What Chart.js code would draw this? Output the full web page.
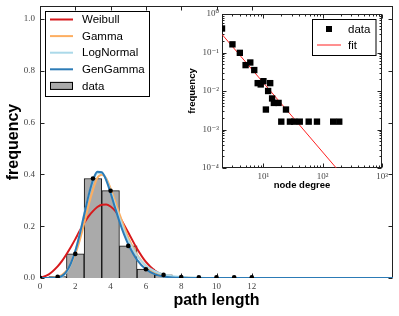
<!DOCTYPE html>
<html>
<head>
<meta charset="utf-8">
<script src="https://cdn.jsdelivr.net/npm/chart.js@4.4.1/dist/chart.umd.min.js"></script>
<style>
  html, body { margin: 0; padding: 0; background: #fff; overflow: hidden; }
  #wrap { position: relative; width: 399px; height: 316px; }
  #mainChart { position: absolute; left: 0; top: 0; }
  #insetChart { position: absolute; left: 180px; top: 0; }
</style>
</head>
<body>
<div id="wrap">
  <canvas id="mainChart" width="399" height="316"></canvas>
  <canvas id="insetChart" width="219" height="200"></canvas>
</div>
<script>
// Datos del histograma (longitud de camino)
const binX = [1, 2, 3, 4, 5, 6, 7, 8, 9, 10, 11, 12];
const binFreq = [0.005, 0.093, 0.384, 0.337, 0.124, 0.034, 0.012, 0.004, 0.002, 0.002, 0.002, 0.002];
const dotX = [0, 1, 2, 3, 4, 5, 6, 7, 8, 9, 10, 11, 12];
const dotFreq = [0.001, 0.005, 0.093, 0.384, 0.337, 0.124, 0.034, 0.012, 0.004, 0.003, 0.003, 0.003, 0.003];

// Curvas ajustadas
const curveX = [0, 0.5, 1, 1.25, 1.5, 1.75, 2, 2.25, 2.5, 2.75, 3, 3.25, 3.5, 3.75, 4, 4.25, 4.5, 4.75, 5, 5.5, 6, 6.5, 7, 7.5, 8, 9, 10, 20];
const weibullY = [0, 0.014, 0.045, 0.066, 0.092, 0.12, 0.15, 0.182, 0.212, 0.238, 0.258, 0.274, 0.283, 0.284, 0.276, 0.26, 0.236, 0.207, 0.176, 0.113, 0.062, 0.029, 0.011, 0.004, 0.001, 0, 0, 0];
const gammaY = [0, 0, 0.004, 0.012, 0.028, 0.054, 0.092, 0.145, 0.21, 0.28, 0.34, 0.387, 0.399, 0.385, 0.345, 0.298, 0.248, 0.2, 0.157, 0.09, 0.047, 0.022, 0.01, 0.004, 0.0015, 0.0002, 0, 0];
const logNormalY = [0, 0, 0.001, 0.006, 0.022, 0.055, 0.104, 0.17, 0.245, 0.315, 0.372, 0.404, 0.405, 0.38, 0.335, 0.283, 0.232, 0.186, 0.146, 0.086, 0.048, 0.026, 0.014, 0.007, 0.004, 0.001, 0.0003, 0];
const genGammaY = [0, 0, 0.002, 0.008, 0.025, 0.057, 0.104, 0.168, 0.243, 0.318, 0.378, 0.41, 0.408, 0.378, 0.328, 0.272, 0.218, 0.17, 0.13, 0.07, 0.034, 0.015, 0.006, 0.002, 0.0007, 0, 0, 0];

const xTicks = [0, 2, 4, 6, 8, 10, 12];
const yTicks = [0, 0.2, 0.4, 0.6, 0.8, 1.0];

// Distribución de grado (inset)
const degX = [2, 3, 4, 5, 6, 7, 8, 9, 10, 11, 12, 13, 14, 15, 18, 20, 24, 28, 33, 41, 58, 80, 150, 190];
const degFreq = [0.42, 0.163, 0.098, 0.047, 0.055, 0.035, 0.016, 0.0148, 0.018, 0.0033, 0.01, 0.016, 0.0064, 0.0049, 0.0049, 0.0016, 0.0033, 0.0016, 0.0016, 0.0016, 0.0016, 0.0016, 0.0016, 0.0016];
const fitX = [2, 200];
const fitY = [0.296, 0.000074];
const degTicks = [10, 100, 1000];
const freqTicks = [0.0001, 0.001, 0.01, 0.1, 1];

const SANS = '"Liberation Sans", Arial, Helvetica, sans-serif';
const SERIF = '"Liberation Serif", "DejaVu Serif", serif';

const toXY = (xs, ys) => xs.map((x, i) => ({ x: x, y: ys[i] }));

// Superíndices para las etiquetas logarítmicas
const SUP = { '-': '\u207B', '0': '\u2070', '1': '\u00B9', '2': '\u00B2', '3': '\u00B3', '4': '\u2074' };
const powLabel = (v) => '10' + String(Math.round(Math.log10(v))).split('').map(c => SUP[c]).join('');

// Marco con marcas hacia dentro en los cuatro lados
const marcoPlugin = {
  id: 'marco',
  beforeDatasetsDraw(chart, args, opts) {
    const { ctx, chartArea: a, scales } = chart;
    const L = Math.round(a.left) + 0.5, R = Math.round(a.right) - 0.5;
    const T = Math.round(a.top) + 0.5, B = Math.round(a.bottom) - 0.5;
    ctx.save();
    ctx.strokeStyle = opts.color;
    ctx.lineWidth = 1;
    ctx.strokeRect(L, T, R - L, B - T);
    const tick = (scale, v, len) => {
      const p = Math.round(scale.getPixelForValue(v)) + 0.5;
      ctx.beginPath();
      if (scale.isHorizontal()) {
        ctx.moveTo(p, B); ctx.lineTo(p, B - len);
        ctx.moveTo(p, T); ctx.lineTo(p, T + len);
      } else {
        ctx.moveTo(L, p); ctx.lineTo(L + len, p);
        ctx.moveTo(R, p); ctx.lineTo(R - len, p);
      }
      ctx.stroke();
    };
    [scales.x, scales.y].forEach(scale => {
      scale.ticks.forEach(t => tick(scale, t.value, opts.major));
      if (opts.minor) {
        const lo = Math.floor(Math.log10(scale.min)), hi = Math.ceil(Math.log10(scale.max));
        for (let d = lo; d < hi; d++) {
          for (let m = 2; m <= 9; m++) {
            const v = m * Math.pow(10, d);
            if (v > scale.min && v < scale.max) tick(scale, v, opts.minor);
          }
        }
      }
    });
    ctx.restore();
  }
};

// Leyenda dibujada dentro del área del gráfico
const cajaLeyendaPlugin = {
  id: 'cajaLeyenda',
  afterDraw(chart, args, opts) {
    const { ctx } = chart;
    const items = chart.data.datasets.filter(ds => ds.enLeyenda);
    ctx.save();
    ctx.fillStyle = '#fff';
    ctx.fillRect(opts.x, opts.y, opts.w, opts.h);
    ctx.strokeStyle = '#000';
    ctx.lineWidth = 1;
    ctx.strokeRect(opts.x, opts.y, opts.w, opts.h);
    ctx.font = opts.fontSize + 'px ' + SANS;
    ctx.textBaseline = 'middle';
    ctx.textAlign = 'left';
    items.forEach((ds, i) => {
      const y = opts.firstRow + i * opts.rowH;
      const x0 = opts.x + opts.sampleStart, x1 = x0 + opts.sampleW;
      if (ds.enLeyenda === 'line') {
        ctx.strokeStyle = ds.borderColor;
        ctx.lineWidth = ds.borderWidth;
        ctx.beginPath(); ctx.moveTo(x0, y); ctx.lineTo(x1, y); ctx.stroke();
      } else if (ds.enLeyenda === 'box') {
        ctx.fillStyle = ds.backgroundColor;
        ctx.fillRect(x0, y - 4, x1 - x0, 8);
        ctx.strokeStyle = '#000';
        ctx.lineWidth = 1;
        ctx.strokeRect(x0 + 0.5, y - 3.5, x1 - x0 - 1, 7);
      } else {
        ctx.fillStyle = ds.pointBackgroundColor;
        ctx.fillRect((x0 + x1) / 2 - 3, y - 3, 6, 6);
      }
      ctx.fillStyle = '#000';
      ctx.fillText(ds.label, opts.x + opts.textStart, y + 0.5);
    });
    ctx.restore();
  }
};

const tickFont = { family: SERIF, size: 9 };
const noGrid = { display: false, drawTicks: false };

// el eje y reserva medio rótulo arriba y abajo; lo quitamos para fijar el área
const fixY = (w) => (s) => { s.width = w; s.paddingTop = 0; s.paddingBottom = 0; };
const fixX = (h) => (s) => { s.height = h; s.paddingLeft = 0; s.paddingRight = 0; };

// Gráfico principal
new Chart(document.getElementById('mainChart').getContext('2d'), {
  type: 'line',
  data: {
    datasets: [
      { label: 'Weibull', enLeyenda: 'line', data: toXY(curveX, weibullY), borderColor: '#d7191c', borderWidth: 2, pointRadius: 0, cubicInterpolationMode: 'monotone', fill: false, order: 5 },
      { label: 'Gamma', enLeyenda: 'line', data: toXY(curveX, gammaY), borderColor: '#fdae61', borderWidth: 2, pointRadius: 0, cubicInterpolationMode: 'monotone', fill: false, order: 4 },
      { label: 'LogNormal', enLeyenda: 'line', data: toXY(curveX, logNormalY), borderColor: '#abd9e9', borderWidth: 2, pointRadius: 0, cubicInterpolationMode: 'monotone', fill: false, order: 3 },
      { label: 'GenGamma', enLeyenda: 'line', data: toXY(curveX, genGammaY), borderColor: '#2c7bb6', borderWidth: 2, pointRadius: 0, cubicInterpolationMode: 'monotone', fill: false, order: 2 },
      { type: 'bar', label: 'data', enLeyenda: 'box', data: toXY(binX, binFreq), backgroundColor: '#aaaaaa', borderColor: '#111', borderWidth: 1, barPercentage: 1, categoryPercentage: 1, order: 6 },
      { label: 'points', data: toXY(dotX, dotFreq), showLine: false, pointRadius: 2.3, pointBackgroundColor: '#000', pointBorderWidth: 0, order: 1 }
    ]
  },
  options: {
    responsive: false,
    devicePixelRatio: 1,
    animation: false,
    layout: { padding: { top: 6, right: 6, left: 0, bottom: 0 } },
    plugins: {
      legend: { display: false },
      tooltip: { enabled: false },
      marco: { color: '#222', major: 4 },
      cajaLeyenda: { x: 45.5, y: 11.5, w: 104, h: 85, firstRow: 19.5, rowH: 16.6, sampleStart: 4.5, sampleW: 23, textStart: 36.5, fontSize: 11.5 }
    },
    scales: {
      x: {
        type: 'linear', min: 0, max: 20, offset: false,
        grid: noGrid, border: { display: false },
        afterBuildTicks: s => { s.ticks = xTicks.map(v => ({ value: v })); },
        afterFit: fixX(38),
        ticks: { autoSkip: false, maxRotation: 0, padding: 3, color: '#444', font: tickFont, callback: v => String(v) },
        title: { display: true, text: 'path length', color: '#000', font: { family: SANS, size: 16, weight: 'bold' }, padding: { top: 0, bottom: 6 } }
      },
      y: {
        type: 'linear', min: 0, max: 1.05,
        grid: noGrid, border: { display: false },
        afterBuildTicks: s => { s.ticks = yTicks.map(v => ({ value: v })); },
        afterFit: fixY(40),
        ticks: { autoSkip: false, padding: 5, color: '#444', font: tickFont, callback: v => v.toFixed(1) },
        title: { display: true, text: 'frequency', color: '#000', font: { family: SANS, size: 16, weight: 'bold' }, padding: { top: 4, bottom: 0 } }
      }
    }
  },
  plugins: [marcoPlugin, cajaLeyendaPlugin]
});

// Gráfico insertado (log-log)
new Chart(document.getElementById('insetChart').getContext('2d'), {
  type: 'line',
  data: {
    datasets: [
      { label: 'data', enLeyenda: 'point', data: toXY(degX, degFreq), showLine: false, pointStyle: 'rect', pointRadius: 4.5, pointBackgroundColor: '#000', pointBorderColor: '#000', pointBorderWidth: 0, order: 1 },
      { label: 'fit', enLeyenda: 'line', data: toXY(fitX, fitY), borderColor: '#ff2020', borderWidth: 1, pointRadius: 0, fill: false, order: 2 }
    ]
  },
  options: {
    responsive: false,
    devicePixelRatio: 1,
    animation: false,
    layout: { padding: { top: 14, right: 17, left: 0, bottom: 0 } },
    plugins: {
      legend: { display: false },
      tooltip: { enabled: false },
      marco: { color: '#222', major: 4, minor: 2 },
      cajaLeyenda: { x: 132.5, y: 19.5, w: 63.5, h: 36, firstRow: 29, rowH: 16, sampleStart: 4.5, sampleW: 24, textStart: 35.5, fontSize: 11.5 }
    },
    scales: {
      x: {
        type: 'logarithmic', min: 2, max: 1000, offset: false,
        grid: noGrid, border: { display: false },
        afterBuildTicks: s => { s.ticks = degTicks.map(v => ({ value: v })); },
        afterFit: fixX(32),
        ticks: { autoSkip: false, maxRotation: 0, padding: 3, color: '#444', font: tickFont, callback: v => powLabel(v) },
        title: { display: true, text: 'node degree', color: '#000', font: { family: SANS, size: 9.5, weight: 'bold' }, padding: { top: 0, bottom: 9 } }
      },
      y: {
        type: 'logarithmic', min: 0.0001, max: 1,
        grid: noGrid, border: { display: false },
        afterBuildTicks: s => { s.ticks = freqTicks.map(v => ({ value: v })); },
        afterFit: fixY(42),
        ticks: { autoSkip: false, padding: 3, color: '#444', font: tickFont, callback: v => powLabel(v) },
        title: { display: true, text: 'frequency', color: '#000', font: { family: SANS, size: 9.5, weight: 'bold' }, padding: { top: 7, bottom: 0 } }
      }
    }
  },
  plugins: [marcoPlugin, cajaLeyendaPlugin]
});
</script>
</body>
</html>
